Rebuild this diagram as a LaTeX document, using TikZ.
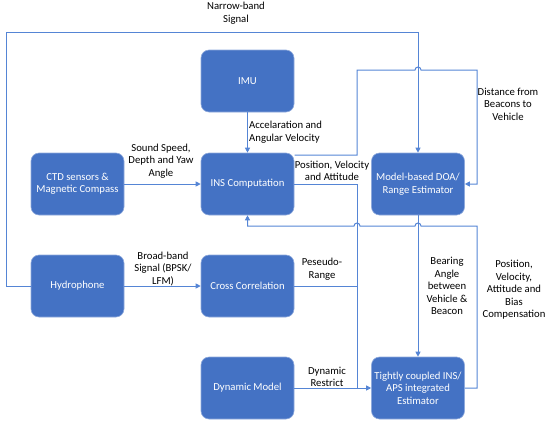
\documentclass[tikz,border=0pt]{standalone}
\usepackage{fontspec}
\setmainfont{Carlito}
\usetikzlibrary{arrows.meta}
\definecolor{boxblue}{HTML}{4472C4}
\definecolor{boxedge}{HTML}{8FAADC}
\definecolor{lineblue}{HTML}{5585D5}
\tikzset{
  blk/.style={rounded corners=8pt, fill=boxblue, draw=boxedge, line width=0.6pt,
    minimum width=93pt, minimum height=62pt, text=white, align=center,
    font=\fontsize{10.7}{12.5}\selectfont, inner sep=2pt},
  conn/.style={draw=lineblue, line width=1pt},
  arr/.style={conn, -{Triangle[length=5pt,width=5pt]}},
  lbl/.style={font=\fontsize{10.7}{12.5}\selectfont, align=center, text=black, inner sep=0pt}
}
\begin{document}
\begin{tikzpicture}[x=1pt,y=-1pt]
\useasboundingbox (0,0) rectangle (550,424);
% boxes
\node[blk] (imu) at (247.5,81) {IMU};
\node[blk] (ctd) at (77.5,184) {CTD sensors \&\\Magnetic Compass};
\node[blk] (ins) at (247.5,184) {INS Computation};
\node[blk] (doa) at (418,184) {Model-based DOA/\\Range Estimator};
\node[blk] (hyd) at (77.5,286) {Hydrophone};
\node[blk] (cc) at (247.5,286) {Cross Correlation};
\node[blk] (dm) at (247.5,388) {Dynamic Model};
\node[blk] (tc) at (418,388) {Tightly coupled INS/\\APS integrated\\Estimator};
% helper coordinates
\coordinate (nb) at (6,32);
\coordinate (ia) at (294.5,155);
\coordinate (ib) at (357,155);
\coordinate (ic) at (357,70);
\coordinate (h1a) at (415,70);
\coordinate (id) at (477,70);
\coordinate (ie) at (477,184);
\coordinate (pv) at (357,184);
\coordinate (jn) at (357,388);
\coordinate (fa) at (477,388);
\coordinate (fb) at (477,226);
\coordinate (h2a) at (421,226);
\coordinate (h3a) at (360,226);
\coordinate (fc) at (247.5,226);
\coordinate (pr) at (357,286);
% connectors
\draw[arr] (hyd.west) -| (nb) -| (doa.north);
\draw[arr] (imu.south) -- (ins.north);
\draw[arr] (ctd.east) -- (ins.west);
\draw[arr] (hyd.east) -- (cc.west);
\draw[arr] (ia) -- (ib) -- (ic) -- (h1a) arc[start angle=180,end angle=0,radius=3pt] -- (id) -- (ie) -- (doa.east);
\draw[conn] (ins.east) -- (pv) -- (jn);
\draw[conn] (cc.east) -- (pr);
\draw[arr] (dm.east) -- (tc.west);
\draw[arr] (doa.south) -- (tc.north);
\draw[arr] (tc.east) -- (fa) -- (fb) -- (h2a) arc[start angle=0,end angle=180,radius=3pt] -- (h3a) arc[start angle=0,end angle=180,radius=3pt] -- (fc) -- (ins.south);
% labels
\node[lbl] (l1) at (236,13) {Narrow-band\\Signal};
\node[lbl, anchor=west, align=left] (l2) at (249,132) {Accelaration and\\Angular Velocity};
\node[lbl] (l3) at (161,161) {Sound Speed,\\Depth and Yaw\\Angle};
\node[lbl] (l4) at (332,171) {Position, Velocity\\and Attitude};
\node[lbl] (l5) at (508,104) {Distance from\\Beacons to\\Vehicle};
\node[lbl] (l6) at (163,269) {Broad-band\\Signal (BPSK/\\LFM)};
\node[lbl] (l7) at (322,269) {Peseudo-\\Range};
\node[lbl] (l8) at (447,286) {Bearing\\Angle\\between\\Vehicle \&\\Beacon};
\node[lbl] (l9) at (514,290) {Position,\\Velocity,\\Attitude and\\Bias\\Compensation};
\node[lbl] (l10) at (327,377) {Dynamic\\Restrict};
\end{tikzpicture}
\end{document}
